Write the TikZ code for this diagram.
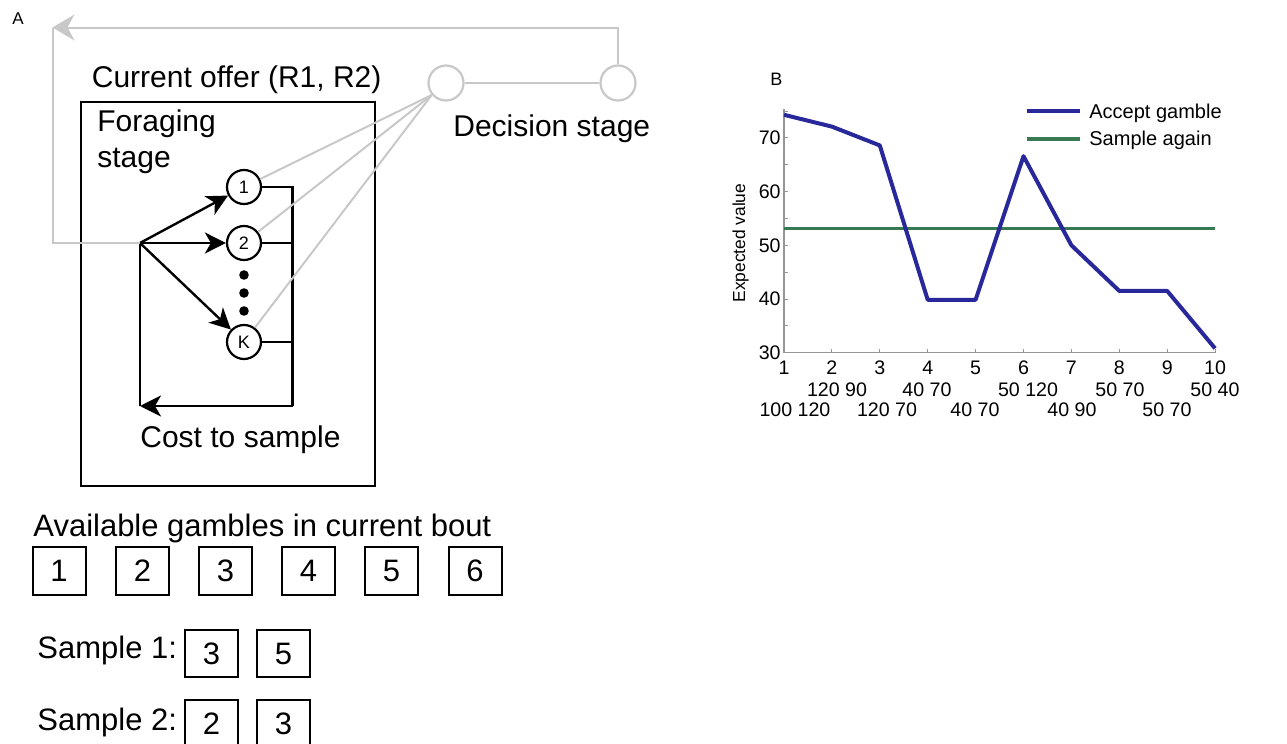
\documentclass[tikz,border=0pt]{standalone}
\usepackage{fontspec}
\setmainfont{Liberation Sans}
\usetikzlibrary{arrows.meta}
\definecolor{lgrey}{RGB}{200,200,200}
\definecolor{axgrey}{RGB}{150,150,150}
\definecolor{navy}{RGB}{40,40,155}
\definecolor{dgreen}{RGB}{55,122,82}
\begin{document}
\begin{tikzpicture}[x=0.5pt,y=-0.5pt,
  big/.style={font=\fontsize{15}{18}\selectfont},
  med/.style={font=\fontsize{9.8}{12}\selectfont},
  blk/.style={line width=1.2pt,black},
  arr/.style={blk,-{Stealth[length=10.5pt,width=10.5pt,inset=3pt]}},
  gry/.style={line width=1pt,lgrey},
  bcirc/.style={circle,draw,line width=1.1pt,minimum size=17pt,inner sep=0pt,font=\fontsize{9}{10}\selectfont},
  gcirc/.style={circle,draw=lgrey,line width=1.1pt,minimum size=17.5pt,inner sep=0pt},
  gbox/.style={draw,line width=1pt,minimum width=26.5pt,minimum height=24pt,inner sep=0pt,font=\fontsize{15.5}{18}\selectfont},
  sbox/.style={gbox,minimum height=23.5pt},
  lbl/.style={anchor=base west,inner sep=0pt},
]
\path[use as bounding box] (0,0) rectangle (1287,744);
\clip (0,0) rectangle (1287,744);

% ---------------- Panel A ----------------
\node[lbl,font=\fontsize{8.5}{10}\selectfont] (lA) at (12,25) {A};
\node[lbl,big] (cur) at (91.5,87) {Current offer (R1, R2)};
\node[draw,line width=1pt,minimum width=147pt,minimum height=192pt,anchor=north west,inner sep=0pt] (forage) at (80,101) {};
\node[lbl,big] (fst1) at (97,131.5) {Foraging};
\node[lbl,big] (fst2) at (97,167.5) {stage};

\node[bcirc] (c1) at (244,187) {1};
\node[bcirc] (c2) at (244,243) {2};
\node[bcirc] (cK) at (244,342) {K};
\fill (244,275) circle (2.4pt);
\fill (244,293) circle (2.4pt);
\fill (244,311) circle (2.4pt);

\coordinate (br) at (140,243);
\coordinate (bl) at (140,406);
\coordinate (bus1) at (292.5,187);
\coordinate (bus2) at (292.5,243);
\coordinate (busK) at (292.5,342);
\coordinate (busb) at (292.5,406);

\draw[blk] (c1.east) -- (bus1) -- (busb);
\draw[blk] (c2.east) -- (bus2);
\draw[blk] (cK.east) -- (busK);
\draw[arr] (busb) -- (bl);
\draw[blk] (br) -- (bl);
\draw[arr] (br) -- (c1);
\draw[arr] (br) -- (c2);
\draw[arr] (br) -- (cK);
\node[lbl,big] (cost) at (140,447) {Cost to sample};

\node[gcirc] (d1) at (446,83) {};
\node[gcirc] (d2) at (618,83) {};
\draw[gry] (d1) -- (d2);
\draw[gry] (d1.220) -- (c1);
\draw[gry] (d1.220) -- (c2);
\draw[gry] (d1.220) -- (cK);
\coordinate (tl) at (52.5,27.5);
\draw[gry,-{Stealth[length=11pt,width=13pt,inset=3.5pt]}] (d2.north) |- (tl);
\draw[gry] (tl) |- (br);
\node[lbl,big] (dec) at (453,136.5) {Decision stage};

% bottom gambles
\node[lbl,font=\fontsize{15.5}{18}\selectfont] (avail) at (33,536) {Available gambles in current bout};
\node[gbox] (g1) at (59,571) {1};
\node[gbox] (g2) at (142.5,571) {2};
\node[gbox] (g3) at (225.5,571) {3};
\node[gbox] (g4) at (308.5,571) {4};
\node[gbox] (g5) at (391.5,571) {5};
\node[gbox] (g6) at (475,571) {6};

\node[lbl,font=\fontsize{15.5}{18}\selectfont] (s1) at (37,658) {Sample 1:};
\node[sbox] (s1a) at (211.5,653.5) {3};
\node[sbox] (s1b) at (283.5,653.5) {5};
\node[lbl,font=\fontsize{15.5}{18}\selectfont] (s2) at (37,730) {Sample 2:};
\node[sbox] (s2a) at (211.5,723.5) {2};
\node[sbox] (s2b) at (283.5,723.5) {3};

% ---------------- Panel B ----------------
\node[lbl,font=\fontsize{9}{10}\selectfont] (lB) at (770,85) {B};
\node[rotate=90,anchor=base west,inner sep=0pt,font=\fontsize{8.7}{10}\selectfont] (ylab) at (745,303) {Expected value};

\begin{scope}[shift={(392pt,-176.35pt)},x=23.95pt,y=2.685pt]
  \draw[axgrey,line width=0.6pt] (0,45.3) -- (0,0) -- (9,0);
  \foreach \v in {0,5,...,45} \draw[axgrey,line width=0.5pt] (0,\v) -- ++(2pt,0);
  \foreach \i in {0,...,9} \draw[axgrey,line width=0.5pt] (\i,0) -- ++(0,2pt);
  \foreach \v in {30,40,50,60,70} \node[anchor=east,med,inner sep=0pt] at ([xshift=-1.5pt]0,\v-30) {\v};
  \foreach \i in {1,...,10} \node[med,inner sep=0pt] at ([yshift=-7.5pt]\i-1,0) {\i};
  \draw[dgreen,line width=1.6pt] (0,23.2) -- (9,23.2);
  \draw[navy,line width=2pt,line join=round] plot coordinates {(0,44.3) (1,42.1) (2,38.6) (3,9.85) (4,9.85) (5,36.6) (6,20) (7,11.5) (8,11.5) (9,0.8)};
\end{scope}

% tick label rows
\node[med,inner sep=0pt] at (837,390) {120 90};
\node[med,inner sep=0pt] at (927,390) {40 70};
\node[med,inner sep=0pt] at (1028,390) {50 120};
\node[med,inner sep=0pt] at (1120,390) {50 70};
\node[med,inner sep=0pt] at (1215,390) {50 40};
\node[med,inner sep=0pt] at (795,410) {100 120};
\node[med,inner sep=0pt] at (887,410) {120 70};
\node[med,inner sep=0pt] at (975,410) {40 70};
\node[med,inner sep=0pt] at (1072,410) {40 90};
\node[med,inner sep=0pt] at (1167,410) {50 70};

% legend
\coordinate (la1) at (1027,110.7);
\coordinate (la2) at (1080,110.7);
\coordinate (lg1) at (1027,139);
\coordinate (lg2) at (1080,139);
\draw[navy,line width=2pt] (la1) -- (la2);
\draw[dgreen,line width=1.6pt] (lg1) -- (lg2);
\node[lbl,font=\fontsize{10}{12}\selectfont] (legA) at (1089,118.3) {Accept gamble};
\node[lbl,font=\fontsize{10}{12}\selectfont] (legS) at (1089,145) {Sample again};
\end{tikzpicture}
\end{document}
